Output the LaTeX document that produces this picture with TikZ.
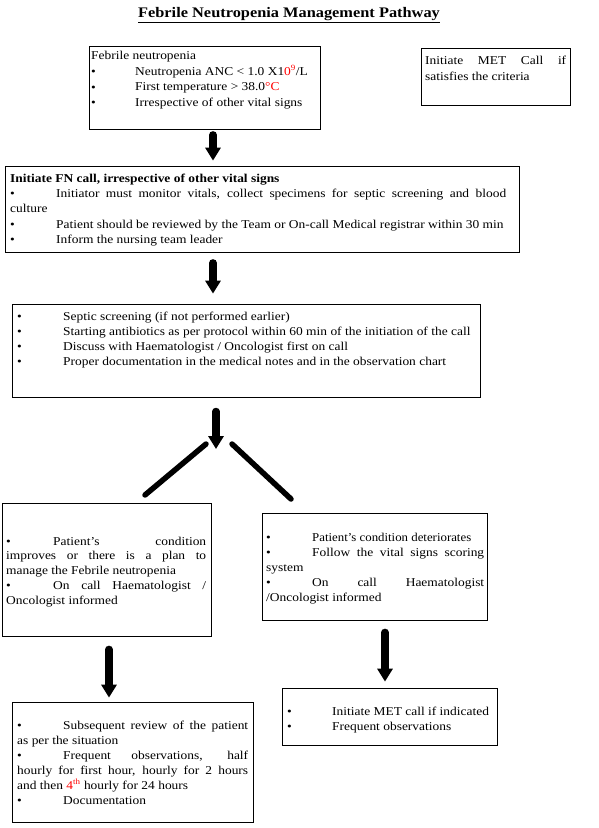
\documentclass[tikz,border=0pt]{standalone}
\usepackage{fontspec}
\setmainfont{Liberation Serif}[FakeStretch=1.12]
\newfontfamily\narrowfont{Liberation Serif}[FakeStretch=1.07]
\usetikzlibrary{arrows.meta}
\hbadness=10000
\hfuzz=6pt
\setlength{\parindent}{0pt}
\newcommand\itm[1][46pt]{\makebox[#1][l]{\textbullet}}
\newcommand\bigitm[1][44pt]{\makebox[#1][l]{\raisebox{-0.3pt}{\large\textbullet}}}
\begin{document}
\begin{tikzpicture}[x=1pt,y=-1pt,
  box/.style={draw=black, line width=0.8pt, inner sep=0pt, minimum width=#1},
  txt/.style={anchor=north west, inner sep=0pt, align=justify,
    font=\fontsize{12}{15}\selectfont},
  bigarrow/.style={line width=7.5pt, line cap=round, -{Triangle[width=15pt,length=13pt]}},
  diag/.style={line width=5.5pt, line cap=round}]
\useasboundingbox (0,0) rectangle (599,828);
\fill[white] (0,0) rectangle (599,828);

\node[font=\fontsize{14.6}{16}\selectfont\bfseries] (title) at (289,15) {\underline{Febrile Neutropenia Management Pathway}};

% Box A
\node[box=231pt, minimum height=83pt] (boxA) at (204.5,87.5) {};
\node[txt, text width=226pt, font=\fontsize{12}{15.6}\selectfont] (tA) at (91,48.5) {\strut Febrile neutropenia\par
\bigitm Neutropenia ANC < 1.0 X1{\color{red}0\textsuperscript{9}}/L\par
\bigitm First temperature > 38.0{\color{red}°C}\par
\bigitm Irrespective of other vital signs};

% Box B
\node[box=149pt, minimum height=57pt] (boxB) at (495.5,76.5) {};
\node[txt, text width=141pt, font=\fontsize{12}{16}\selectfont] (tB) at (425,53.5) {\strut Initiate MET Call if\linebreak satisfies the criteria};

% Box C
\node[box=514pt, minimum height=86pt] (boxC) at (262,209) {};
\node[txt, text width=496pt, font=\fontsize{12}{15.25}\selectfont] (tC) at (10,171.5) {\strut\textbf{Initiate FN call, irrespective of other vital signs}\par
\itm Initiator must monitor vitals, collect specimens for septic screening and blood\linebreak culture\par
\itm Patient should be reviewed by the Team or On-call Medical registrar within 30 min\par
\itm Inform the nursing team leader};

% Box D
\node[box=468pt, minimum height=93pt] (boxD) at (246,350.5) {};
\node[txt, text width=460pt, font=\fontsize{12}{14.7}\selectfont] (tD) at (17,310.5) {\strut\itm Septic screening (if not performed earlier)\par
\itm Starting antibiotics as per protocol within 60 min of the initiation of the call\par
\itm Discuss with Haematologist / Oncologist first on call\par
\itm Proper documentation in the medical notes and in the observation chart};

% Box E
\node[box=209pt, minimum height=133pt] (boxE) at (106.5,569.5) {};
\node[txt, text width=200pt, font=\fontsize{12}{14.75}\selectfont] (tE) at (6,534.5) {\strut\itm[47pt]Patient’s condition\linebreak improves or there is a plan to\linebreak manage the Febrile neutropenia\par
\itm[47pt]On call Haematologist /\linebreak Oncologist informed};

% Box F
\node[box=225pt, minimum height=107pt] (boxF) at (374.5,566.5) {};
\node[txt, text width=218pt] (tF) at (266,530.5) {\strut\itm{\narrowfont Patient’s condition deteriorates}\par
\itm Follow the vital signs scoring\linebreak system\par
\itm On call Haematologist\linebreak /Oncologist informed};

% Box G
\node[box=241pt, minimum height=120pt] (boxG) at (132.5,762) {};
\node[txt, text width=231pt] (tG) at (17,718.5) {\strut\itm Subsequent review of the patient\linebreak as per the situation\par
\itm Frequent observations, half\linebreak hourly for first hour, hourly for 2 hours\linebreak and then {\color{red}4\textsuperscript{th}} hourly for 24 hours\par
\itm Documentation};

% Box H
\node[box=215pt, minimum height=57pt] (boxH) at (389.5,716.5) {};
\node[txt, text width=205pt] (tH) at (287,704.5) {\strut\itm[45pt]Initiate MET call if indicated\par
\itm[45pt]Frequent observations};

% arrows
\coordinate (a1) at (213,0);
\coordinate (a2) at (213,0);
\coordinate (a3s) at (216,411.5);
\coordinate (a3e) at (216,449);
\coordinate (a4) at (109,0);
\coordinate (a5) at (385,0);
\draw[bigarrow, shorten <=5.5pt, shorten >=5pt] (boxA.south -| a1) -- (boxC.north -| a1);
\draw[bigarrow, shorten <=10.5pt, shorten >=10pt] (boxC.south -| a2) -- (boxD.north -| a2);
\draw[bigarrow] (a3s) -- (a3e);
\draw[bigarrow, shorten <=13pt, shorten >=4pt] (boxE.south -| a4) -- (boxG.north -| a4);
\draw[bigarrow, shorten <=12pt, shorten >=6pt] (boxF.south -| a5) -- (boxH.north -| a5);

% diagonal lines
\coordinate (dl1) at (206,444);
\coordinate (dl2) at (145,495);
\coordinate (dr1) at (232,444);
\coordinate (dr2) at (291,499);
\draw[diag] (dl1) -- (dl2);
\draw[diag] (dr1) -- (dr2);
\end{tikzpicture}
\end{document}
